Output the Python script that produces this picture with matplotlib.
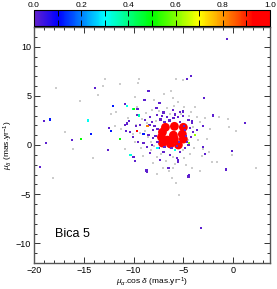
import numpy as np
import matplotlib
matplotlib.use("Agg")
import matplotlib.pyplot as plt
from matplotlib.colors import LinearSegmentedColormap
from matplotlib.ticker import MultipleLocator

plt.rcParams['font.family'] = ['Liberation Sans', 'DejaVu Sans']
plt.rcParams['mathtext.fontset'] = 'custom'
plt.rcParams['mathtext.rm'] = 'Liberation Sans'
plt.rcParams['mathtext.it'] = 'Liberation Sans:italic'

# field stars (no membership colour)
field_x = [-17.8, -13.6, -15.4, -12.86, -13.07, -11.4, -9.5, -9.6, -9.7, -12.3, -16.9, -11.9,
           -18.1, -14.1, -5.7, -5.0, -6.2, -6.0, -1.4, -0.5, -0.4, 0.3, -2.3, -7.6, -7.0, -6.0,
           -6.1, -5.7, -5.4, 2.3, -3.3, -2.1, -1.6, -4.1, -2.4, -3.0, -16.1, -0.1,
           -9.2, -8.8, -8.2, -7.4, -6.6, -5.9, -4.9, -4.2, -3.6, -3.3, -3.5, -3.9, -4.3, -4.9,
           -5.8, -6.7, -7.6, -8.3, -9.3, -9.9, -10.1, -9.8, -8.7, -8.9, -8.3, -7.7, -6.3, -5.2,
           -4.4, -4.0, -4.5, -5.0, -6.0, -7.2, -7.9, -8.6, -9.4, -10.6, -11.3, -11.8, -10.9,
           -9.1, -8.0, -6.4, -4.7, -3.1, -2.6, -2.8, -3.8, -5.5, -7.9, -9.9, -6.9]
field_y = [5.8, 5.1, 4.5, 6.7, 6.0, 6.2, 6.7, 6.3, 3.9, 3.2, 1.3, 1.9,
           -3.4, -1.3, 6.7, 6.6, 5.5, 4.8, 2.8, 2.6, 1.8, 1.4, 1.6, -2.9, -2.3, -2.3,
           -3.4, -3.9, -5.1, -2.3, -2.6, -1.7, -1.7, -2.3, -0.7, -0.4, -0.4, -1.0,
           2.6, 3.3, 3.6, 3.5, 3.8, 4.0, 3.9, 3.4, 2.8, 2.3, 0.5, -0.3, -0.9, -1.3,
           -1.9, -1.6, -1.2, -0.5, -0.3, 0.3, 1.1, 2.0, 2.2, 1.4, 0.3, 2.4, 3.2, 3.2,
           2.9, 1.8, 0.5, -0.5, -1.2, -0.9, -0.1, 0.8, 1.2, 2.7, 1.6, 3.4, -0.4,
           -1.1, -1.8, -2.6, -2.0, -1.1, 0.6, 2.7, 3.9, 4.4, 4.6, 4.9, 5.2]

# high-probability members
memb_x = [-6.8, -5.9, -5.0, -7.1, -6.0, -7.2, -5.1, -5.9, -6.6, -5.0, -6.3, -7.1, -5.5]
memb_y = [1.8, 1.9, 1.8, 1.3, 1.0, 0.8, 1.1, 0.6, 0.5, 0.6, 0.1, 0.2, 0.0]
memb_p = [0.98, 1.0, 0.97, 0.99, 1.0, 0.96, 0.98, 1.0, 0.99, 0.97, 0.98, 0.96, 0.99]

# low / intermediate probability stars
star_x = [-10.68, -9.75, -9.35, -8.84, -8.34, -8.11, -7.67, -7.17, -6.67, -6.0, -5.5, -5.0,
          -4.49, -4.15, -4.32, -4.05, -4.25, -4.65, -4.49, -4.82, -5.33, -5.66, -5.5, -6.33,
          -7.0, -7.5, -8.17, -8.67, -9.01, -9.52, -10.02, -10.35, -8.51, -8.01, -8.01, -8.34,
          -7.34, -6.5, -8.67, -4.49, -3.82, -10.85, -9.68, -5.33, -6.06,
          -7.6, -7.8, -6.9, -5.3, -4.8, -4.7, -5.4, -6.2, -6.9, -7.6, -7.9, -6.4, -5.6, -4.9,
          -7.3, -8.4, -7.0, -5.8,
          -0.6, -4.2, -4.6, -2.9, -7.4, -7.7, -5.0, -2.0, 1.2, -4.1, -3.0, -3.6, -13.87, -8.5,
          -8.9, -10.9, -9.6, -19.0, -10.5, -10.7, -12.5, -10.75, -16.2, -18.8, -19.4, -12.6,
          -10.0, -9.85, -8.7, -4.4, -3.2, -0.7, -0.1, -2.8, -5.5, -3.0,
          -12.1, -18.4, -12.3, -14.3, -9.0,
          -10.7, -9.45, -14.6, -10.3, -7.6, -5.8, -10.0,
          -9.95, -15.3, -11.4, -3.8, -4.4,
          -8.6, -9.65]
star_y = [2.20, 1.93, 2.03, 2.54, 2.81, 2.37, 3.04, 2.94, 2.87, 2.71, 2.87, 2.94,
          2.54, 2.20, 1.69, 1.35, 0.84, 0.33, 0.0, -0.34, -0.68, -1.35, -1.69, -1.01,
          -0.68, -0.34, 0.0, -0.17, 0.17, 0.33, 0.84, 1.35, 1.01, 1.52, 0.68, -0.84,
          -1.52, -2.36, -2.7, -3.2, 1.01, 2.03, 3.04, 3.38, 3.55,
          1.6, 0.9, 2.3, 2.3, 1.5, 0.9, 0.3, -0.3, -0.2, 0.3, 1.9, 2.5, -0.1, 1.9,
          2.6, 2.0, 3.3, 3.1,
          10.75, 7.0, 6.7, 4.8, 4.3, 3.8, 3.4, 3.0, 2.2, 2.4, 1.9, 1.5, 5.8, 5.5,
          4.6, 4.2, 3.7, 2.4, 2.4, 2.1, 1.7, 1.4, 0.5, 0.2, -2.2, -0.5,
          -1.2, -1.6, -2.6, -3.1, -8.4, -2.5, -0.6, -0.9, -1.5, -0.2,
          4.0, 2.6, 1.4, 1.1, 1.1,
          4.0, 3.0, 2.5, -1.0, -0.3, -0.5, 3.65,
          3.7, 0.6, 0.6, 1.0, 0.2,
          1.9, 1.4]
star_p = [0.0] * 63 + [0.01] * 36 + [0.12] * 5 + [0.32, 0.36, 0.31, 0.33, 0.3, 0.32, 0.4] \
         + [0.5, 0.5, 0.5, 0.62, 0.6] + [0.82, 0.95]

cmap = LinearSegmentedColormap.from_list("rainbow_idl", [
    (0.0, "#6422cc"), (0.1, "#0000ff"), (0.3, "#00ffff"), (0.5, "#00ff00"),
    (0.7, "#ffff00"), (0.85, "#ff6000"), (0.93, "#ff0000"), (1.0, "#ff0000")])

fig = plt.figure(figsize=(2.77, 2.89), dpi=100)
ax = fig.add_axes([34 / 277, 1 - 263 / 289, 236 / 277, 236 / 289])
cax = fig.add_axes([34 / 277, 1 - 26 / 289, 236 / 277, 16 / 289])

ax.scatter(field_x, field_y, s=1.2, c="#cccccc", marker="s", linewidths=0, zorder=1)
sc = ax.scatter(memb_x, memb_y, s=40, c=memb_p, cmap=cmap, vmin=0, vmax=1,
                linewidths=0, zorder=2)
ax.scatter(star_x, star_y, s=2.5, c=star_p, cmap=cmap, vmin=0, vmax=1,
           marker="s", linewidths=0, zorder=3)

ax.set_xlim(-20, 3.7)
ax.set_ylim(-12, 12)
ax.xaxis.set_major_locator(MultipleLocator(5))
ax.xaxis.set_minor_locator(MultipleLocator(1))
ax.yaxis.set_major_locator(MultipleLocator(5))
ax.yaxis.set_minor_locator(MultipleLocator(1))
ax.tick_params(which="both", direction="in", top=True, right=True, labelsize=6.5,
               color="#333333", width=0.7, pad=2)
ax.tick_params(which="major", length=4)
ax.tick_params(which="minor", length=2)
for sp in ax.spines.values():
    sp.set_linewidth(1.0)
    sp.set_color("#555555")

ax.set_xlabel(r"$\mu_{\alpha}$.cos $\delta$ (mas.yr$^{-1}$)", fontsize=6, labelpad=1)
ax.set_ylabel(r"$\mu_{\delta}$ (mas.yr$^{-1}$)", fontsize=6, labelpad=1)
ax.text(-17.9, -9.1, "Bica 5", fontsize=9, va="center", ha="left")

cb = fig.colorbar(sc, cax=cax, orientation="horizontal")
cax.xaxis.set_ticks_position("top")
cax.xaxis.set_label_position("top")
cb.set_ticks([0.0, 0.2, 0.4, 0.6, 0.8, 1.0])
cb.set_ticklabels(["0.0", "0.2", "0.4", "0.6", "0.8", "1.0"])
cax.xaxis.set_minor_locator(MultipleLocator(0.1))
cax.tick_params(which="both", direction="in", top=True, bottom=True, labelsize=6,
                length=4, width=0.7, pad=1)
cb.outline.set_linewidth(0.8)

fig.savefig("out.png", dpi=100)
